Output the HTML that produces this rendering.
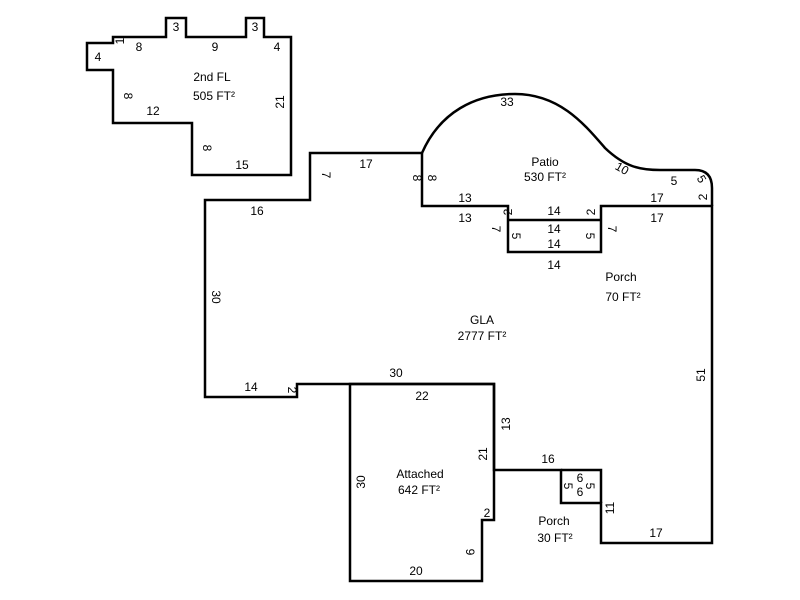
<!DOCTYPE html>
<html><head><meta charset="utf-8"><style>
html,body{margin:0;padding:0;background:#fff}
svg{display:block}
text{font-family:"Liberation Sans",sans-serif;font-size:12px;fill:#000}
</style></head><body>
<svg width="800" height="600" viewBox="0 0 800 600" xmlns="http://www.w3.org/2000/svg">
<g fill="none" stroke="#000" stroke-width="2.5" stroke-linejoin="miter">
<path d="M113,37 L166,37 L166,18 L186,18 L186,37 L246,37 L246,18 L264,18 L264,37 L291,37 L291,175 L192,175 L192,123 L113,123 L113,70 L87,70 L87,43 L113,43 Z"/>
<path d="M310,153 L422,153 L422,206 L508,206 L508,252 L601,252 L601,206 L712,206 L712,543 L601,543 L601,503 L561,503 L561,470 L494,470 L494,384 L297,384 L297,397 L205,397 L205,200 L310,200 Z"/>
<path d="M422,153 C440,112 475,94 515,94 C560,94 585,125 605,148 C625,167 640,170 660,170 L695,170 Q712,170 712,188 L712,206"/>
<path d="M508,220 L601,220"/>
<path d="M350,384 L494,384 L494,460 L494,520 L482,520 L482,581 L350,581 Z"/>
<path d="M561,470 L601,470 L601,503"/>
</g>
<g text-anchor="middle">
<text x="139" y="51">8</text>
<text x="215" y="51">9</text>
<text x="277" y="51">4</text>
<text x="176" y="31">3</text>
<text x="255" y="31">3</text>
<text x="98" y="61">4</text>
<text x="212" y="81">2nd FL</text>
<text x="214" y="100">505 FT²</text>
<text x="153" y="115">12</text>
<text x="242" y="169">15</text>
<text transform="translate(124,96) rotate(90)">8</text>
<text transform="translate(203,148) rotate(90)">8</text>
<text transform="translate(284,102) rotate(-90)">21</text>
<text transform="translate(124,41) rotate(-90)">1</text>

<text x="366" y="168">17</text>
<text x="257" y="215">16</text>
<text transform="translate(212,297) rotate(90)">30</text>
<text x="251" y="391">14</text>
<text transform="translate(288,390) rotate(90)">2</text>
<text x="396" y="377">30</text>
<text transform="translate(322,175) rotate(90)">7</text>
<text transform="translate(413,178) rotate(90)">8</text>
<text transform="translate(428,178) rotate(90)">8</text>
<text x="507" y="106">33</text>
<text x="545" y="166">Patio</text>
<text x="545" y="181">530 FT²</text>
<text transform="translate(620,172) rotate(30)">10</text>
<text x="674" y="185">5</text>
<text transform="translate(698,181) rotate(60)">5</text>
<text transform="translate(707,197) rotate(-90)">2</text>
<text x="465" y="202">13</text>
<text x="465" y="222">13</text>
<text x="657" y="202">17</text>
<text x="657" y="222">17</text>
<text x="554" y="215">14</text>
<text x="554" y="233">14</text>
<text x="554" y="248">14</text>
<text x="554" y="269">14</text>
<text transform="translate(512,212) rotate(-90)">2</text>
<text transform="translate(595,212) rotate(-90)">2</text>
<text transform="translate(492,229) rotate(90)">7</text>
<text transform="translate(608,229) rotate(90)">7</text>
<text transform="translate(512,236) rotate(90)">5</text>
<text transform="translate(586,236) rotate(90)">5</text>
<text x="621" y="281">Porch</text>
<text x="623" y="301">70 FT²</text>
<text x="482" y="324">GLA</text>
<text x="482" y="340">2777 FT²</text>
<text transform="translate(705,375) rotate(-90)">51</text>
<text x="422" y="400">22</text>
<text transform="translate(510,424) rotate(-90)">13</text>
<text transform="translate(487,454) rotate(-90)">21</text>
<text transform="translate(365,482) rotate(-90)">30</text>
<text x="420" y="478">Attached</text>
<text x="419" y="494">642 FT²</text>
<text x="487" y="517">2</text>
<text transform="translate(466,552) rotate(90)">9</text>
<text x="416" y="575">20</text>
<text x="548" y="463">16</text>
<text transform="translate(564,486) rotate(90)">5</text>
<text x="580" y="482">6</text>
<text x="580" y="496">6</text>
<text transform="translate(586,486) rotate(90)">5</text>
<text transform="translate(614,508) rotate(-90)">11</text>
<text x="554" y="525">Porch</text>
<text x="555" y="542">30 FT²</text>
<text x="656" y="537">17</text>
</g>
</svg>
</body></html>
